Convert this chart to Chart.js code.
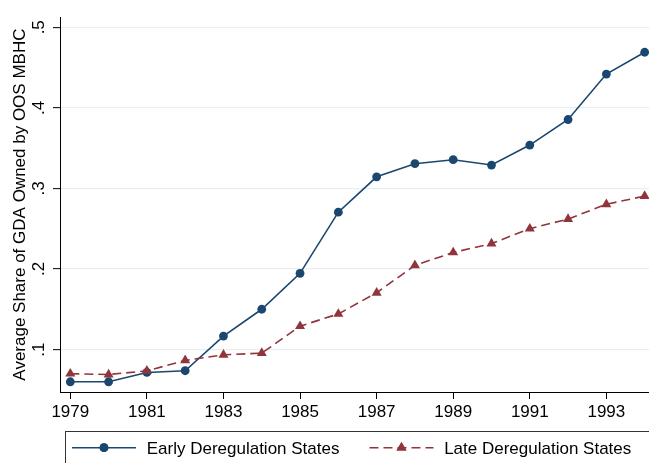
<!DOCTYPE html>
<html>
<head>
<meta charset="utf-8">
<script src="https://cdn.jsdelivr.net/npm/chart.js@4/dist/chart.umd.min.js"></script>
<style>
  html, body { margin: 0; padding: 0; background: #fff; overflow: hidden; }
  #wrap { width: 649px; height: 463px; overflow: hidden; position: relative; }
  canvas { display: block; }
</style>
</head>
<body>
<div id="wrap"><canvas id="c" width="700" height="463" style="width:700px;height:463px"></canvas></div>
<script>
// Years covered by the series
const years = [1979, 1980, 1981, 1982, 1983, 1984, 1985, 1986, 1987, 1988, 1989, 1990, 1991, 1992, 1993, 1994];

// Average share of GDA owned by out-of-state MBHCs
const earlyShare = [0.060, 0.060, 0.0716, 0.0737, 0.1167, 0.150, 0.1946, 0.2705, 0.3144, 0.3307, 0.3356, 0.329, 0.3538, 0.3855, 0.4419, 0.469];
const lateShare  = [0.070, 0.069, 0.0735, 0.0865, 0.0935, 0.0955, 0.129, 0.1442, 0.1705, 0.2045, 0.2205, 0.2315, 0.250, 0.262, 0.2803, 0.2905];

const seriesNames = ['Early Deregulation States', 'Late Deregulation States'];

// Axis ticks
const yTickValues = [0.1, 0.2, 0.3, 0.4, 0.5];
const yTickLabels = ['.1', '.2', '.3', '.4', '.5'];
const xTickValues = [1979, 1981, 1983, 1985, 1987, 1989, 1991, 1993];
const xTickLabels = ['1979', '1981', '1983', '1985', '1987', '1989', '1991', '1993'];

const yTitle = 'Average Share of GDA Owned by OOS MBHC';

const NAVY = '#1a476f';
const MAROON = '#90353b';
const FONT = 'Liberation Sans, Arial, Helvetica, sans-serif';
const FONT_SIZE = 17;
const GRID = '#e7eff1';

const toPoints = (vals) => years.map((x, i) => ({ x: x, y: vals[i] }));

// Legend drawn as a boxed strip under the plot, each key with line + marker
const legendBox = {
  id: 'legendBox',
  afterDraw(chart) {
    const ctx = chart.ctx;
    ctx.save();
    ctx.strokeStyle = '#333';
    ctx.lineWidth = 1;
    ctx.strokeRect(65.5, 431.5, 700, 80);

    ctx.font = FONT_SIZE + 'px ' + FONT;
    ctx.textBaseline = 'alphabetic';
    ctx.textAlign = 'left';
    const symY = 447.7;
    let x = 72;
    chart.data.datasets.forEach((ds) => {
      const x1 = x, x2 = x + 64, mid = (x1 + x2) / 2;
      ctx.strokeStyle = ds.borderColor;
      ctx.lineWidth = ds.borderWidth;
      ctx.setLineDash(ds.borderDash || []);
      ctx.beginPath();
      ctx.moveTo(x1, symY);
      ctx.lineTo(x2, symY);
      ctx.stroke();
      ctx.setLineDash([]);
      ctx.fillStyle = ds.backgroundColor;
      Chart.helpers.drawPoint(ctx, {
        pointStyle: ds.pointStyle,
        radius: ds.pointRadius,
        borderWidth: 0,
        rotation: 0
      }, mid, symY);
      ctx.fill();
      ctx.fillStyle = '#000';
      const tx = x2 + 10.7;
      ctx.fillText(ds.label, tx, 453.5);
      x = tx + ctx.measureText(ds.label).width + 30;
    });
    ctx.restore();
  }
};

new Chart(document.getElementById('c'), {
  type: 'line',
  data: {
    datasets: [
      {
        label: seriesNames[0],
        data: toPoints(earlyShare),
        borderColor: NAVY,
        backgroundColor: NAVY,
        borderWidth: 1.6,
        pointStyle: 'circle',
        pointRadius: 4.4,
        pointBorderWidth: 0,
        pointBackgroundColor: NAVY,
        tension: 0,
        order: 1
      },
      {
        label: seriesNames[1],
        data: toPoints(lateShare),
        borderColor: MAROON,
        backgroundColor: MAROON,
        borderWidth: 1.6,
        borderDash: [9, 5],
        pointStyle: 'triangle',
        pointRadius: 5.8,
        pointBorderWidth: 0,
        pointBackgroundColor: MAROON,
        tension: 0,
        order: 0
      }
    ]
  },
  options: {
    responsive: false,
    animation: false,
    devicePixelRatio: 1,
    layout: { padding: { left: 0, top: 10, right: 45, bottom: 31 } },
    plugins: { legend: { display: false }, tooltip: { enabled: false } },
    scales: {
      x: {
        type: 'linear',
        min: 1978.731,
        max: 1994.27,
        afterBuildTicks: (s) => { s.ticks = xTickValues.map(v => ({ value: v })); },
        afterFit: (s) => { s.height = 40; },
        border: { display: true, color: '#000', width: 1 },
        grid: { drawOnChartArea: false, drawTicks: true, tickLength: 7, tickColor: '#000', tickWidth: 1 },
        ticks: {
          color: '#000',
          font: { family: FONT, size: FONT_SIZE },
          padding: 3,
          maxRotation: 0,
          minRotation: 0,
          autoSkip: false,
          callback: (v) => xTickLabels[xTickValues.indexOf(v)]
        }
      },
      y: {
        type: 'linear',
        min: 0.0473,
        max: 0.5125,
        afterBuildTicks: (s) => { s.ticks = yTickValues.map(v => ({ value: v })); },
        afterFit: (s) => { s.width = 60; },
        border: { display: true, color: '#000', width: 1 },
        grid: { color: GRID, lineWidth: 1.3, drawTicks: true, tickLength: 7, tickColor: '#000', tickWidth: 1 },
        ticks: {
          color: '#000',
          font: { family: FONT, size: FONT_SIZE },
          padding: 7,
          minRotation: 90,
          maxRotation: 90,
          crossAlign: 'center',
          autoSkip: false,
          callback: (v) => yTickLabels[yTickValues.findIndex(t => Math.abs(t - v) < 1e-9)]
        },
        title: {
          display: true,
          text: yTitle,
          color: '#000',
          font: { family: FONT, size: FONT_SIZE },
          padding: { top: 10, bottom: 0 }
        }
      }
    }
  },
  plugins: [legendBox]
});
</script>
</body>
</html>
